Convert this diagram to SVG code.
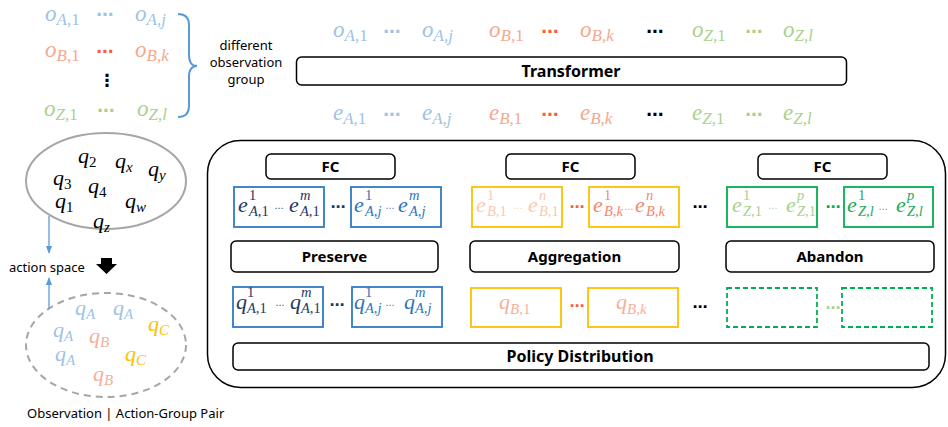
<svg xmlns="http://www.w3.org/2000/svg" width="948" height="427" viewBox="0 0 948 427">
<defs>
<style>
.m{font-family:"Liberation Serif","DejaVu Serif",serif;font-style:italic}
.b{font-size:23px}
.s{font-size:17px}
.be{font-size:22px}
.ss{font-size:14.5px}
.qe{font-size:22px}
.qs{font-size:15px}
.u{font-style:normal}
.dots{font-family:"DejaVu Sans",sans-serif;font-weight:bold;font-size:17px;text-anchor:middle}
.dm{font-family:"DejaVu Sans",sans-serif;font-weight:bold;font-size:15px;text-anchor:middle}
.dt{font-family:"DejaVu Sans",sans-serif;font-size:9px;text-anchor:middle}
.lbl{font-family:"Noto Sans","DejaVu Sans",sans-serif;font-size:15px;font-weight:bold;text-anchor:middle;fill:#000}
.txt{font-family:"Noto Sans","DejaVu Sans",sans-serif;font-size:13px;fill:#000}
.rb{fill:#fff;stroke:#000;stroke-width:1.5}
.bx{fill:#fff;stroke-width:1.8}
.bl{stroke:#2E7BC4}
.yl{stroke:#FFC000}
.gr{stroke:#00B050}
.gd{stroke:#00B050;stroke-dasharray:5 3}
.ca{fill:#9DC3E6}.cb{fill:#F5A88E}.cz{fill:#A9D18E}
</style>
<marker id="ah" viewBox="0 0 10 10" refX="9" refY="5" markerWidth="6" markerHeight="6" orient="auto">
<path d="M0,1 L10,5 L0,9 z" fill="#5B9BD5"/>
</marker>
</defs>
<rect width="948" height="427" fill="#fff"/>

<g id="obs-groups">
<text class="m ca" x="45" y="21"><tspan class="b">o</tspan><tspan class="s" dy="4">A<tspan class="u">,1</tspan></tspan></text>
<text class="dots" x="105" y="20" fill="#9DC3E6">⋯</text>
<text class="m ca" x="135" y="21"><tspan class="b">o</tspan><tspan class="s" dy="4">A,j</tspan></text>
<text class="m cb" x="45" y="57"><tspan class="b">o</tspan><tspan class="s" dy="4">B<tspan class="u">,1</tspan></tspan></text>
<text class="dots" x="105" y="57" fill="#F8603E">⋯</text>
<text class="m cb" x="135" y="57"><tspan class="b">o</tspan><tspan class="s" dy="4">B,k</tspan></text>
<text class="dots" x="107" y="86" fill="#000" font-size="20">⋮</text>
<text class="m cz" x="44" y="116"><tspan class="b">o</tspan><tspan class="s" dy="4">Z<tspan class="u">,1</tspan></tspan></text>
<text class="dots" x="106" y="116" fill="#A9D18E">⋯</text>
<text class="m cz" x="137" y="116"><tspan class="b">o</tspan><tspan class="s" dy="4">Z,l</tspan></text>
</g>

<g id="group-label">
<text class="txt" text-anchor="middle" x="246" y="50">different</text>
<text class="txt" text-anchor="middle" x="246" y="67">observation</text>
<text class="txt" text-anchor="middle" x="246" y="84">group</text>
</g>

<g id="obs-row">
<text class="m ca" x="333" y="37"><tspan class="b">o</tspan><tspan class="s" dy="4">A<tspan class="u">,1</tspan></tspan></text>
<text class="dots" x="392" y="37" fill="#9DC3E6">⋯</text>
<text class="m ca" x="422" y="37"><tspan class="b">o</tspan><tspan class="s" dy="4">A,j</tspan></text>
<text class="m cb" x="489" y="37"><tspan class="b">o</tspan><tspan class="s" dy="4">B<tspan class="u">,1</tspan></tspan></text>
<text class="dots" x="550" y="37" fill="#F8603E">⋯</text>
<text class="m cb" x="580" y="37"><tspan class="b">o</tspan><tspan class="s" dy="4">B,k</tspan></text>
<text class="dots" x="655" y="37" fill="#000">⋯</text>
<text class="m cz" x="692" y="37"><tspan class="b">o</tspan><tspan class="s" dy="4">Z<tspan class="u">,1</tspan></tspan></text>
<text class="dots" x="754" y="37" fill="#A9D18E">⋯</text>
<text class="m cz" x="783" y="37"><tspan class="b">o</tspan><tspan class="s" dy="4">Z,l</tspan></text>
</g>

<g id="transformer">
<rect class="rb" x="296.5" y="57" width="550" height="28" rx="5"/>
<text class="lbl" x="571" y="77" style="font-size:16px">Transformer</text>
</g>

<g id="emb-row">
<text class="m ca" x="333" y="120"><tspan class="b">e</tspan><tspan class="s" dy="4">A<tspan class="u">,1</tspan></tspan></text>
<text class="dots" x="392" y="120" fill="#9DC3E6">⋯</text>
<text class="m ca" x="422" y="120"><tspan class="b">e</tspan><tspan class="s" dy="4">A,j</tspan></text>
<text class="m cb" x="489" y="120"><tspan class="b">e</tspan><tspan class="s" dy="4">B<tspan class="u">,1</tspan></tspan></text>
<text class="dots" x="550" y="120" fill="#F8603E">⋯</text>
<text class="m cb" x="580" y="120"><tspan class="b">e</tspan><tspan class="s" dy="4">B,k</tspan></text>
<text class="dots" x="655" y="120" fill="#000">⋯</text>
<text class="m cz" x="692" y="120"><tspan class="b">e</tspan><tspan class="s" dy="4">Z<tspan class="u">,1</tspan></tspan></text>
<text class="dots" x="754" y="120" fill="#A9D18E">⋯</text>
<text class="m cz" x="783" y="120"><tspan class="b">e</tspan><tspan class="s" dy="4">Z,l</tspan></text>
</g>

<g id="action-space">
<ellipse cx="106" cy="181" rx="80" ry="48" fill="none" stroke="#A6A6A6" stroke-width="2"/>
<g class="m" fill="#000">
<text x="78" y="163"><tspan class="qe">q</tspan><tspan class="qs u" dy="4">2</tspan></text>
<text x="115" y="168"><tspan class="qe">q</tspan><tspan class="qs" dy="4">x</tspan></text>
<text x="148" y="176"><tspan class="qe">q</tspan><tspan class="qs" dy="4">y</tspan></text>
<text x="53" y="185"><tspan class="qe">q</tspan><tspan class="qs u" dy="4">3</tspan></text>
<text x="88" y="193"><tspan class="qe">q</tspan><tspan class="qs u" dy="4">4</tspan></text>
<text x="55" y="208"><tspan class="qe">q</tspan><tspan class="qs u" dy="4">1</tspan></text>
<text x="125" y="208"><tspan class="qe">q</tspan><tspan class="qs" dy="4">w</tspan></text>
<text x="93" y="228"><tspan class="qe">q</tspan><tspan class="qs" dy="4">z</tspan></text>
</g>
</g>

<g id="action-space-label">
<text class="txt" x="9" y="272">action space</text>
</g>

<g id="action-group-pair">
<ellipse cx="106" cy="345" rx="80" ry="52" fill="none" stroke="#A6A6A6" stroke-width="2" stroke-dasharray="7 5"/>
<g class="m">
<text x="75" y="315" fill="#9DC3E6"><tspan class="qe">q</tspan><tspan class="qs" dy="4">A</tspan></text>
<text x="113" y="315" fill="#9DC3E6"><tspan class="qe">q</tspan><tspan class="qs" dy="4">A</tspan></text>
<text x="148" y="331" fill="#FFC000"><tspan class="qe">q</tspan><tspan class="qs" dy="4">C</tspan></text>
<text x="53" y="337" fill="#9DC3E6"><tspan class="qe">q</tspan><tspan class="qs" dy="4">A</tspan></text>
<text x="89" y="343" fill="#F4B09A"><tspan class="qe">q</tspan><tspan class="qs" dy="4">B</tspan></text>
<text x="55" y="361" fill="#9DC3E6"><tspan class="qe">q</tspan><tspan class="qs" dy="4">A</tspan></text>
<text x="125" y="361" fill="#FFC000"><tspan class="qe">q</tspan><tspan class="qs" dy="4">C</tspan></text>
<text x="93" y="381" fill="#F4B09A"><tspan class="qe">q</tspan><tspan class="qs" dy="4">B</tspan></text>
</g>
<text class="txt" x="27" y="418">Observation | Action-Group Pair</text>
</g>

<g id="policy-panel">
<rect x="207.5" y="140.5" width="738" height="247" rx="33" fill="none" stroke="#000" stroke-width="1.5"/>
</g>

<g id="fc-A"><rect class="rb" x="266" y="154" width="129" height="25" rx="5"/><text class="lbl" x="330.5" y="172">FC</text></g>
<g id="fc-B"><rect class="rb" x="506" y="154" width="129" height="25" rx="5"/><text class="lbl" x="570.5" y="172">FC</text></g>
<g id="fc-Z"><rect class="rb" x="758" y="154" width="129" height="25" rx="5"/><text class="lbl" x="822.5" y="172">FC</text></g>

<g id="e-A1">
<rect class="bx bl" x="234" y="187" width="90" height="40"/>
<text class="m" fill="#1F3864"><tspan class="be" x="238" y="212">e</tspan><tspan class="ss u" x="249" y="200">1</tspan><tspan class="ss" x="249" y="216">A<tspan class="u">,1</tspan></tspan><tspan class="be" x="289" y="212">e</tspan><tspan class="ss" x="300" y="200">m</tspan><tspan class="ss" x="300" y="216">A<tspan class="u">,1</tspan></tspan></text>
<text class="dt" x="279" y="211" fill="#1F3864">⋯</text>
</g>
<text class="dm" x="338" y="212" fill="#1F3864">⋯</text>
<g id="e-Aj">
<rect class="bx bl" x="351" y="187" width="90" height="40"/>
<text class="m" fill="#2E75B6"><tspan class="be" x="354" y="212">e</tspan><tspan class="ss u" x="365" y="200">1</tspan><tspan class="ss" x="365" y="216">A,j</tspan><tspan class="be" x="398" y="212">e</tspan><tspan class="ss" x="409" y="200">m</tspan><tspan class="ss" x="409" y="216">A,j</tspan></text>
<text class="dt" x="390" y="211" fill="#2E75B6">⋯</text>
</g>

<g id="e-B1">
<rect class="bx yl" x="472" y="187" width="90" height="40"/>
<text class="m" fill="#F8CBAD"><tspan class="be" x="476" y="212">e</tspan><tspan class="ss u" x="487" y="200">1</tspan><tspan class="ss" x="487" y="216">B<tspan class="u">,1</tspan></tspan><tspan class="be" x="528" y="212">e</tspan><tspan class="ss" x="539" y="200">n</tspan><tspan class="ss" x="539" y="216">B<tspan class="u">,1</tspan></tspan></text>
<text class="dt" x="518" y="211" fill="#F8CBAD">⋯</text>
</g>
<text class="dm" x="577" y="212" fill="#F8603E">⋯</text>
<g id="e-Bk">
<rect class="bx yl" x="589" y="187" width="90" height="40"/>
<text class="m" fill="#F4896B"><tspan class="be" x="593" y="212">e</tspan><tspan class="ss u" x="604" y="200">1</tspan><tspan class="ss" x="604" y="216">B,k</tspan><tspan class="be" x="635" y="212">e</tspan><tspan class="ss" x="646" y="200">n</tspan><tspan class="ss" x="646" y="216">B,k</tspan></text>
<text class="dt" x="629" y="212" fill="#F4896B">⋯</text>
</g>
<text class="dm" x="700" y="212" fill="#000">⋯</text>

<g id="e-Z1">
<rect class="bx gr" x="727" y="187" width="90" height="40"/>
<text class="m" fill="#A9D18E"><tspan class="be" x="732" y="212">e</tspan><tspan class="ss u" x="743" y="200">1</tspan><tspan class="ss" x="743" y="216">Z<tspan class="u">,1</tspan></tspan><tspan class="be" x="786" y="212">e</tspan><tspan class="ss" x="797" y="200">p</tspan><tspan class="ss" x="797" y="216">Z<tspan class="u">,1</tspan></tspan></text>
<text class="dt" x="773" y="211" fill="#A9D18E">⋯</text>
</g>
<text class="dm" x="833" y="212" fill="#00B050">⋯</text>
<g id="e-Zl">
<rect class="bx gr" x="844" y="187" width="89" height="40"/>
<text class="m" fill="#1DAA5A"><tspan class="be" x="847" y="212">e</tspan><tspan class="ss u" x="858" y="200">1</tspan><tspan class="ss" x="858" y="216">Z,l</tspan><tspan class="be" x="896" y="212">e</tspan><tspan class="ss" x="907" y="200">p</tspan><tspan class="ss" x="907" y="216">Z,l</tspan></text>
<text class="dt" x="883" y="212" fill="#1DAA5A">⋯</text>
</g>

<g id="preserve"><rect class="rb" x="231" y="241" width="207" height="31" rx="5"/><text class="lbl" x="334.5" y="262">Preserve</text></g>
<g id="aggregation"><rect class="rb" x="470" y="241" width="209" height="31" rx="5"/><text class="lbl" x="574.5" y="262">Aggregation</text></g>
<g id="abandon"><rect class="rb" x="726" y="241" width="208" height="31" rx="5"/><text class="lbl" x="830" y="262">Abandon</text></g>

<g id="q-A1">
<rect class="bx bl" x="233" y="287" width="90" height="40"/>
<text class="m" fill="#1F3864"><tspan class="be" x="236" y="309">q</tspan><tspan class="ss u" x="247" y="297">1</tspan><tspan class="ss" x="247" y="313">A<tspan class="u">,1</tspan></tspan><tspan class="be" x="290" y="309">q</tspan><tspan class="ss" x="301" y="297">m</tspan><tspan class="ss" x="301" y="313">A<tspan class="u">,1</tspan></tspan></text>
<text class="dt" x="280" y="308" fill="#1F3864">⋯</text>
</g>
<text class="dm" x="337" y="310" fill="#1F3864">⋯</text>
<g id="q-Aj">
<rect class="bx bl" x="352" y="287" width="90" height="40"/>
<text class="m" fill="#2E75B6"><tspan class="be" x="354" y="309">q</tspan><tspan class="ss u" x="365" y="297">1</tspan><tspan class="ss" x="365" y="313">A,j</tspan><tspan class="be" x="404" y="309">q</tspan><tspan class="ss" x="415" y="297">m</tspan><tspan class="ss" x="415" y="313">A,j</tspan></text>
<text class="dt" x="390" y="308" fill="#2E75B6">⋯</text>
</g>

<g id="q-B1">
<rect class="bx yl" x="471" y="288" width="90" height="39"/>
<text class="m" fill="#F4B09A" x="499" y="309"><tspan class="be">q</tspan><tspan class="qs" dy="5">B<tspan class="u">,1</tspan></tspan></text>
</g>
<text class="dm" x="577" y="311" fill="#F8603E">⋯</text>
<g id="q-Bk">
<rect class="bx yl" x="588" y="288" width="90" height="39"/>
<text class="m" fill="#F4B09A" x="616" y="309"><tspan class="be">q</tspan><tspan class="qs" dy="5">B,k</tspan></text>
</g>
<text class="dm" x="700" y="312" fill="#000">⋯</text>

<g id="q-Z1"><rect class="bx gd" x="727" y="288" width="90" height="39"/></g>
<text class="dm" x="833" y="313" fill="#A9D18E">⋯</text>
<g id="q-Zl"><rect class="bx gd" x="842" y="288" width="90" height="39"/></g>

<g id="policy-distribution">
<rect class="rb" x="233" y="343" width="696" height="27" rx="5"/>
<text class="lbl" x="580" y="362" style="font-size:16px">Policy Distribution</text>
</g>

<g id="connectors">
<path d="M178,14 Q189,14 189,25 L189,55 Q189,66 197,66 Q189,66 189,77 L189,106 Q189,117 178,117" fill="none" stroke="#5B9BD5" stroke-width="2"/>
<line x1="49" y1="216" x2="49" y2="253" stroke="#5B9BD5" stroke-width="1.3" marker-end="url(#ah)"/>
<line x1="49" y1="309" x2="49" y2="278" stroke="#5B9BD5" stroke-width="1.3" marker-end="url(#ah)"/>
<polygon points="101,258 112,258 112,264 117,264 106.5,274 96,264 101,264" fill="#000"/>
</g>
</svg>
